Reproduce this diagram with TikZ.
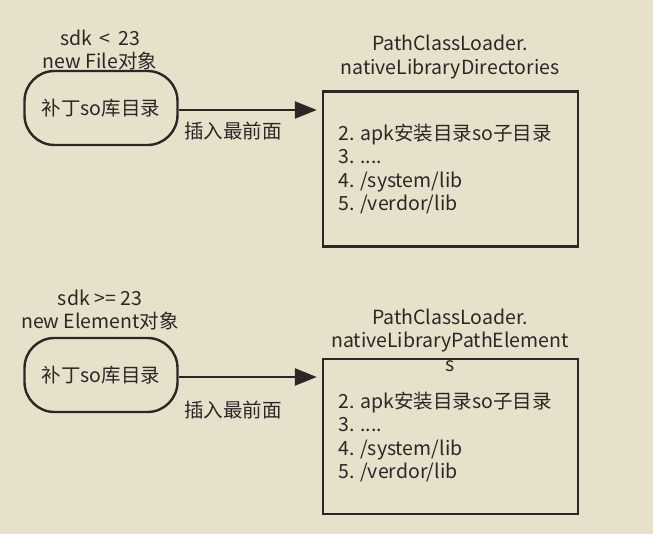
\documentclass[tikz,border=0pt]{standalone}
\usepackage{fontspec}
\setmainfont{Noto Sans CJK SC}
\usetikzlibrary{arrows.meta}
\definecolor{bg}{HTML}{E7E1CC}
\definecolor{ink}{HTML}{2A2724}
\begin{document}
\begin{tikzpicture}[x=1pt,y=-1pt,
  every node/.style={text=ink, font=\fontsize{19.5}{23.5}\selectfont, inner sep=0pt},
  pill/.style={draw=ink, line width=2.4pt, rounded corners=30pt, minimum width=153pt, minimum height=74pt},
  listbox/.style={draw=ink, line width=2.4pt, minimum width=255pt, minimum height=155pt},
  conn/.style={draw=ink, line width=2.4pt, -{Triangle[length=22pt,width=17pt]}, shorten >=5pt}]
\fill[bg] (0,0) rectangle (653,534);
\useasboundingbox (0,0) rectangle (653,534);
% top
\node[pill] (s1) at (101,108) {补丁so库目录};
\node[align=center] (c1) at (100,50) {sdk \,<\, 23\\new File对象};
\node[listbox] (b1) at (450.5,169) {};
\node[align=center] (t1) at (450,57) {PathClassLoader.\\nativeLibraryDirectories};
\node[align=left, anchor=west] (l1) at (338,169) {2. apk安装目录so子目录\\3. ....\\4. /system/lib\\5. /verdor/lib};
\draw[conn] (s1.east |- 0,110) coordinate (a1) -- (b1.west |- a1);
\node (i1) at (233,131) {插入最前面};
% bottom
\node[pill] (s2) at (101,375) {补丁so库目录};
\node[align=center] (c2) at (100,310) {sdk >= 23\\new Element对象};
\node[listbox] (b2) at (450.5,436.5) {};
\node[align=center] (t2) at (450,340) {PathClassLoader.\\nativeLibraryPathElement\\s};
\node[align=left, anchor=west] (l2) at (338,437) {2. apk安装目录so子目录\\3. ....\\4. /system/lib\\5. /verdor/lib};
\draw[conn] (s2.east |- 0,377) coordinate (a2) -- (b2.west |- a2);
\node (i2) at (233,410) {插入最前面};
\end{tikzpicture}
\end{document}
